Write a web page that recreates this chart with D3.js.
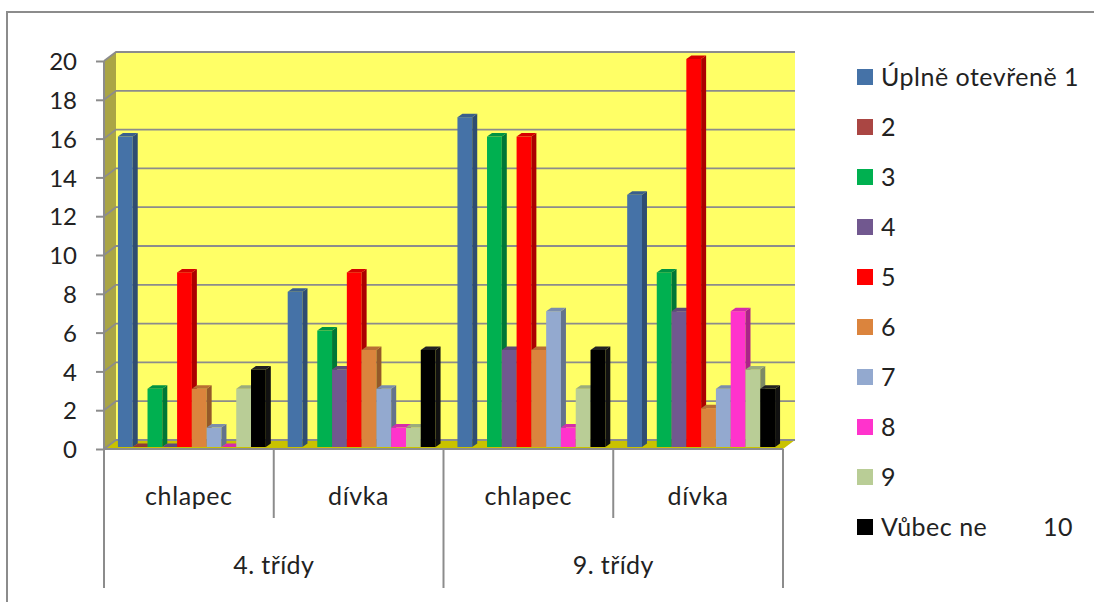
<!DOCTYPE html>
<html><head><meta charset="utf-8">
<script src="https://cdn.jsdelivr.net/npm/d3@7/dist/d3.min.js"></script>
<style>body{margin:0;background:#fff}text{font-family:Lato,"Open Sans",sans-serif;fill:#222}</style>
</head><body>
<svg id="c" width="1094" height="602"></svg>
<script>
const groups = ["4. třídy", "9. třídy"];
const subcats = ["chlapec", "dívka"];
const seriesNames = ["Úplně otevřeně 1","2","3","4","5","6","7","8","9","Vůbec ne          10"];
const seriesColors = ["#4572A7","#AA4643","#00B050","#71588F","#FF0000","#DB843D","#93A9CF","#FF33CC","#B9CD96","#000000"];
// values per category (4. chlapec, 4. dívka, 9. chlapec, 9. dívka); null = no bar
const s1  = [16, 8, 17, 13];
const s2  = [0, null, null, null];
const s3  = [3, 6, 16, 9];
const s4  = [0, 4, 5, 7];
const s5  = [9, 9, 16, 20];
const s6  = [3, 5, 5, 2];
const s7  = [1, 3, 7, 3];
const s8  = [0, 1, 1, 7];
const s9  = [3, 1, 3, 4];
const s10 = [4, 5, 5, 3];
const yTicks = [0,2,4,6,8,10,12,14,16,18,20];

const series = [s1,s2,s3,s4,s5,s6,s7,s8,s9,s10];
const cats = [];
groups.forEach(g => subcats.forEach(s => cats.push(g + "|" + s)));

const svg = d3.select("#c");
const L = 104, R = 783, B = 449, T = 61;
const DX = 12, DY = 9;

// outer frame
svg.append("rect").attr("x",7).attr("y",12).attr("width",1200).attr("height",700)
  .attr("fill","none").attr("stroke","#8c8c8c").attr("stroke-width",2);

const y = d3.scaleLinear().domain([0,20]).range([B,T]);
const x0 = d3.scaleBand().domain(cats).range([L,R]);
const xg = d3.scaleBand().domain(groups).range([L,R]);
const x1 = d3.scaleBand().domain(d3.range(series.length)).range([0,x0.bandwidth()]).paddingOuter(0.74);

// back wall
svg.append("rect").attr("x",L+DX).attr("y",T-DY).attr("width",R-L).attr("height",B-T)
  .attr("fill","#ffff66");
// side wall
svg.append("polygon").attr("points",[[L,T],[L+DX,T-DY],[L+DX,B-DY],[L,B]].join(" "))
  .attr("fill","#aaa545");
// floor
svg.append("polygon").attr("points",[[L,B],[L+DX,B-DY],[R+DX,B-DY],[R,B]].join(" "))
  .attr("fill","#c9c200");
// gridlines
yTicks.forEach(t => {
  const yy = y(t);
  svg.append("path").attr("d",`M${L},${yy}L${L+DX},${yy-DY}L${R+DX},${yy-DY}`)
    .attr("fill","none").attr("stroke","#8c8c8c").attr("stroke-width",1.8);
});

// bars
const BD = 5, BDY = 3.5, SX = 3, SY = -2;
const w = x1.bandwidth();
cats.forEach((c, ci) => {
  series.forEach((s, si) => {
    const v = s[ci];
    if (v === null) return;
    const col = d3.color(seriesColors[si]);
    const xl = x0(c) + x1(si) + SX;
    const yt = y(v) + SY, yb = y(0) + SY;
    const g = svg.append("g");
    g.append("rect").attr("x",xl).attr("y",yt).attr("width",w).attr("height",yb-yt).attr("fill",col);
    g.append("polygon").attr("points",[[xl+w,yt],[xl+w+BD,yt-BDY],[xl+w+BD,yb-BDY],[xl+w,yb]].join(" "))
      .attr("fill", si===9 ? "#111" : col.darker(1.1));
    g.append("polygon").attr("points",[[xl,yt],[xl+BD,yt-BDY],[xl+w+BD,yt-BDY],[xl+w,yt]].join(" "))
      .attr("fill", si===9 ? "#222" : col.darker(0.5));
  });
});

// y axis
svg.append("line").attr("x1",L).attr("x2",L).attr("y1",T).attr("y2",B)
  .attr("stroke","#8c8c8c").attr("stroke-width",2);
const yAxis = d3.axisLeft(y).tickValues(yTicks).tickSize(8).tickPadding(19).tickFormat(d3.format("d"));
const ya = svg.append("g").attr("transform",`translate(${L},0)`).call(yAxis);
ya.select(".domain").remove();
ya.selectAll("line").attr("stroke","#8c8c8c").attr("stroke-width",2);
ya.selectAll("text").style("font-size","24px").attr("fill","#222").attr("dy","0.36em");

// x axis
svg.append("line").attr("x1",L).attr("x2",R).attr("y1",B).attr("y2",B)
  .attr("stroke","#8c8c8c").attr("stroke-width",2);
cats.forEach((c, ci) => {
  const xs = x0(c);
  const isGroupStart = ci % subcats.length === 0;
  svg.append("line").attr("x1",xs).attr("x2",xs).attr("y1",B).attr("y2",isGroupStart ? 588 : 518)
    .attr("stroke","#8c8c8c").attr("stroke-width",2);
  svg.append("text").attr("x",xs + x0.bandwidth()/2).attr("y",505).attr("text-anchor","middle")
    .style("font-size","25px").style("letter-spacing","0.6px").text(c.split("|")[1]);
});
svg.append("line").attr("x1",R).attr("x2",R).attr("y1",B).attr("y2",588)
  .attr("stroke","#8c8c8c").attr("stroke-width",2);
groups.forEach(g => {
  svg.append("text").attr("x",xg(g) + xg.bandwidth()/2).attr("y",574).attr("text-anchor","middle")
    .style("font-size","25px").style("letter-spacing","0.4px").text(g);
});

// legend
const lg = svg.append("g");
seriesNames.forEach((n, i) => {
  const yy = 77 + i*50;
  lg.append("rect").attr("x",857).attr("y",yy-8).attr("width",16).attr("height",16)
    .attr("fill",seriesColors[i]);
  const parts = n.split(/\s{2,}/);
  const t = lg.append("text").attr("x",881).attr("y",yy).attr("dy","0.36em")
    .style("font-size","25px").style("letter-spacing","0.5px");
  t.append("tspan").text(parts[0]);
  if (parts.length > 1) t.append("tspan").attr("x",1043).text(parts[1]);
});
</script>
</body></html>
